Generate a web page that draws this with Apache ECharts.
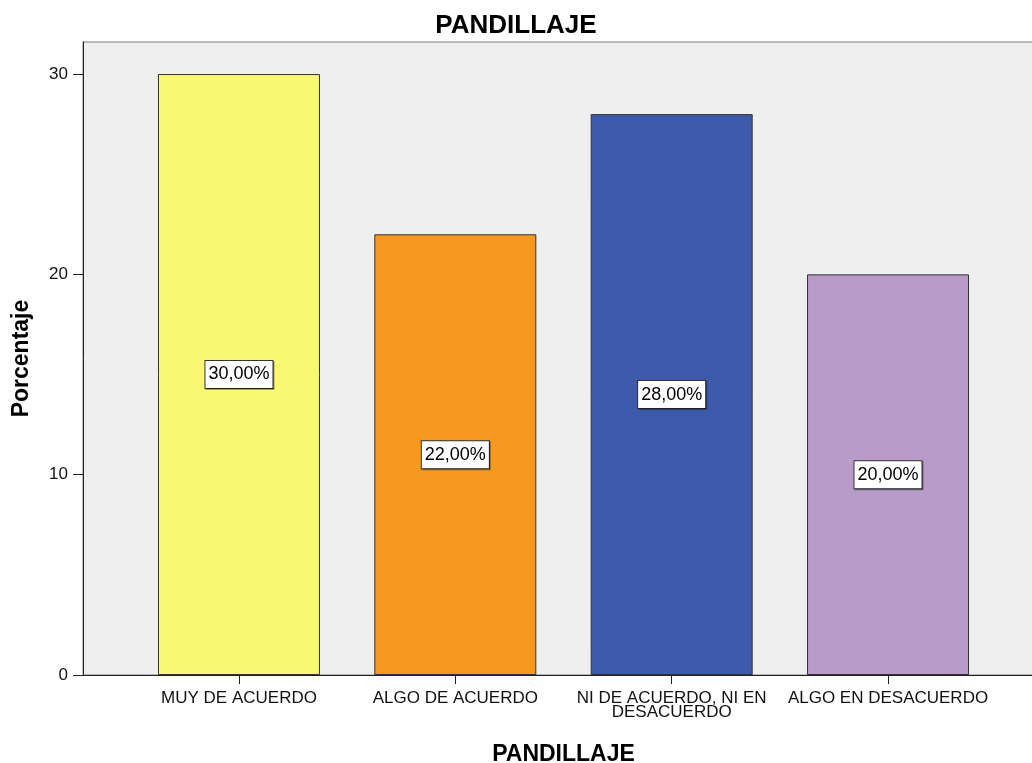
<!DOCTYPE html>
<html>
<head>
<meta charset="utf-8">
<script src="https://cdn.jsdelivr.net/npm/echarts@6/dist/echarts.min.js"></script>
<style>html,body{margin:0;padding:0;background:#fff;}#c{width:1032px;height:763px;}</style>
</head>
<body>
<div id="c"></div>
<script>
var categories = ['MUY DE ACUERDO', 'ALGO DE ACUERDO', 'NI DE ACUERDO, NI EN\nDESACUERDO', 'ALGO EN DESACUERDO'];
var values = [30, 22, 28, 20];
var labels = ['30,00%', '22,00%', '28,00%', '20,00%'];
var colors = ['#FAF773', '#F7981F', '#3D59AA', '#B89BC9'];
var yTicks = [0, 10, 20, 30];
var xPositions = [1, 2, 3, 4];

var data = values.map(function (v, i) {
  return { value: [xPositions[i], v], itemStyle: { color: colors[i] }, label: { formatter: labels[i] } };
});

var chart = echarts.init(document.getElementById('c'));
chart.setOption({
  animation: false,
  backgroundColor: '#ffffff',
  title: {
    text: 'PANDILLAJE', left: 'center', top: 8,
    textStyle: { fontFamily: 'Liberation Sans', fontWeight: 'bold', fontSize: 26, color: '#000' }
  },
  grid: {
    left: 83, top: 42, bottom: 88, right: -12,
    containLabel: false, outerBoundsMode: 'none',
    show: true, backgroundColor: '#EFEFEF', borderColor: '#7a7a7a', borderWidth: 1
  },
  xAxis: {
    type: 'value', min: 0.279, max: 4.721,
    name: 'PANDILLAJE', nameLocation: 'middle', nameGap: 68,
    nameTextStyle: { fontFamily: 'Liberation Sans', fontWeight: 'bold', fontSize: 23, color: '#000' },
    splitLine: { show: false },
    axisLine: { show: true, lineStyle: { color: '#222', width: 1 } },
    axisTick: { show: true, length: 9, customValues: xPositions, lineStyle: { color: '#222' } },
    axisLabel: {
      customValues: xPositions, margin: 16,
      fontFamily: 'Liberation Sans', fontSize: 17, color: '#111', lineHeight: 14,
      formatter: function (v) { var i = xPositions.indexOf(v); return i >= 0 ? categories[i] : ''; }
    }
  },
  yAxis: {
    type: 'value', min: 0, max: 31.6,
    name: 'Porcentaje', nameLocation: 'middle', nameGap: 50,
    nameTextStyle: { fontFamily: 'Liberation Sans', fontWeight: 'bold', fontSize: 23, color: '#000' },
    splitLine: { show: false },
    axisLine: { show: true, lineStyle: { color: '#222', width: 1 } },
    axisTick: { show: true, length: 10, customValues: yTicks, lineStyle: { color: '#222' } },
    axisLabel: { customValues: yTicks, margin: 15, fontFamily: 'Liberation Sans', fontSize: 17, color: '#111' }
  },
  series: [{
    type: 'bar',
    barWidth: 162,
    data: data,
    itemStyle: { borderColor: '#333', borderWidth: 1 },
    label: {
      show: true, position: 'inside',
      fontFamily: 'Liberation Sans', fontSize: 18, color: '#000',
      backgroundColor: '#fff', borderColor: '#333', borderWidth: 1,
      padding: [5, 3, 4, 3],
      shadowColor: 'rgba(0,0,0,0.35)', shadowOffsetX: 1, shadowOffsetY: 1, shadowBlur: 0
    }
  }]
});
</script>
</body>
</html>
